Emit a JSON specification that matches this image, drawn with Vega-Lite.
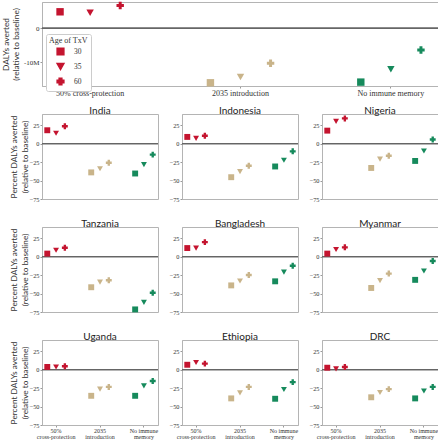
{
  "$schema": "https://vega.github.io/schema/vega-lite/v6.json",
  "autosize": {"type": "pad"},
  "padding": {"left": 0, "top": 1, "right": 0, "bottom": 0},
  "datasets": {
    "global": [
      {"scenario": "50% cross-protection", "age": "30", "dalys": 4900000},
      {"scenario": "50% cross-protection", "age": "35", "dalys": 4600000},
      {"scenario": "50% cross-protection", "age": "60", "dalys": 6750000},
      {"scenario": "2035 introduction", "age": "30", "dalys": -16100000},
      {"scenario": "2035 introduction", "age": "35", "dalys": -14400000},
      {"scenario": "2035 introduction", "age": "60", "dalys": -10300000},
      {"scenario": "No immune memory", "age": "30", "dalys": -15900000},
      {"scenario": "No immune memory", "age": "35", "dalys": -12100000},
      {"scenario": "No immune memory", "age": "60", "dalys": -6400000}
    ],
    "countries": [
      {"country": "India", "scenario": "50% cross-protection", "age": "30", "pct": 18},
      {"country": "India", "scenario": "50% cross-protection", "age": "35", "pct": 14},
      {"country": "India", "scenario": "50% cross-protection", "age": "60", "pct": 23.5},
      {"country": "India", "scenario": "2035 introduction", "age": "30", "pct": -39},
      {"country": "India", "scenario": "2035 introduction", "age": "35", "pct": -34},
      {"country": "India", "scenario": "2035 introduction", "age": "60", "pct": -26},
      {"country": "India", "scenario": "No immune memory", "age": "30", "pct": -40.5},
      {"country": "India", "scenario": "No immune memory", "age": "35", "pct": -28.5},
      {"country": "India", "scenario": "No immune memory", "age": "60", "pct": -15},
      {"country": "Indonesia", "scenario": "50% cross-protection", "age": "30", "pct": 9},
      {"country": "Indonesia", "scenario": "50% cross-protection", "age": "35", "pct": 7},
      {"country": "Indonesia", "scenario": "50% cross-protection", "age": "60", "pct": 10.5},
      {"country": "Indonesia", "scenario": "2035 introduction", "age": "30", "pct": -45.5},
      {"country": "Indonesia", "scenario": "2035 introduction", "age": "35", "pct": -38},
      {"country": "Indonesia", "scenario": "2035 introduction", "age": "60", "pct": -30},
      {"country": "Indonesia", "scenario": "No immune memory", "age": "30", "pct": -31},
      {"country": "Indonesia", "scenario": "No immune memory", "age": "35", "pct": -22.5},
      {"country": "Indonesia", "scenario": "No immune memory", "age": "60", "pct": -10.5},
      {"country": "Nigeria", "scenario": "50% cross-protection", "age": "30", "pct": 17.5},
      {"country": "Nigeria", "scenario": "50% cross-protection", "age": "35", "pct": 30},
      {"country": "Nigeria", "scenario": "50% cross-protection", "age": "60", "pct": 34},
      {"country": "Nigeria", "scenario": "2035 introduction", "age": "30", "pct": -33},
      {"country": "Nigeria", "scenario": "2035 introduction", "age": "35", "pct": -21},
      {"country": "Nigeria", "scenario": "2035 introduction", "age": "60", "pct": -16.5},
      {"country": "Nigeria", "scenario": "No immune memory", "age": "30", "pct": -23.5},
      {"country": "Nigeria", "scenario": "No immune memory", "age": "35", "pct": -10},
      {"country": "Nigeria", "scenario": "No immune memory", "age": "60", "pct": 5.5},
      {"country": "Tanzania", "scenario": "50% cross-protection", "age": "30", "pct": 4},
      {"country": "Tanzania", "scenario": "50% cross-protection", "age": "35", "pct": 8.5},
      {"country": "Tanzania", "scenario": "50% cross-protection", "age": "60", "pct": 12},
      {"country": "Tanzania", "scenario": "2035 introduction", "age": "30", "pct": -41.5},
      {"country": "Tanzania", "scenario": "2035 introduction", "age": "35", "pct": -34.5},
      {"country": "Tanzania", "scenario": "2035 introduction", "age": "60", "pct": -32},
      {"country": "Tanzania", "scenario": "No immune memory", "age": "30", "pct": -71.5},
      {"country": "Tanzania", "scenario": "No immune memory", "age": "35", "pct": -62},
      {"country": "Tanzania", "scenario": "No immune memory", "age": "60", "pct": -49},
      {"country": "Bangladesh", "scenario": "50% cross-protection", "age": "30", "pct": 11.5},
      {"country": "Bangladesh", "scenario": "50% cross-protection", "age": "35", "pct": 11.5},
      {"country": "Bangladesh", "scenario": "50% cross-protection", "age": "60", "pct": 19.5},
      {"country": "Bangladesh", "scenario": "2035 introduction", "age": "30", "pct": -39},
      {"country": "Bangladesh", "scenario": "2035 introduction", "age": "35", "pct": -33},
      {"country": "Bangladesh", "scenario": "2035 introduction", "age": "60", "pct": -25},
      {"country": "Bangladesh", "scenario": "No immune memory", "age": "30", "pct": -33.5},
      {"country": "Bangladesh", "scenario": "No immune memory", "age": "35", "pct": -21},
      {"country": "Bangladesh", "scenario": "No immune memory", "age": "60", "pct": -12.5},
      {"country": "Myanmar", "scenario": "50% cross-protection", "age": "30", "pct": 4},
      {"country": "Myanmar", "scenario": "50% cross-protection", "age": "35", "pct": 9.5},
      {"country": "Myanmar", "scenario": "50% cross-protection", "age": "60", "pct": 12.5},
      {"country": "Myanmar", "scenario": "2035 introduction", "age": "30", "pct": -42.5},
      {"country": "Myanmar", "scenario": "2035 introduction", "age": "35", "pct": -32.5},
      {"country": "Myanmar", "scenario": "2035 introduction", "age": "60", "pct": -23},
      {"country": "Myanmar", "scenario": "No immune memory", "age": "30", "pct": -31.5},
      {"country": "Myanmar", "scenario": "No immune memory", "age": "35", "pct": -19.5},
      {"country": "Myanmar", "scenario": "No immune memory", "age": "60", "pct": -6},
      {"country": "Uganda", "scenario": "50% cross-protection", "age": "30", "pct": 3.5},
      {"country": "Uganda", "scenario": "50% cross-protection", "age": "35", "pct": 3.5},
      {"country": "Uganda", "scenario": "50% cross-protection", "age": "60", "pct": 4.5},
      {"country": "Uganda", "scenario": "2035 introduction", "age": "30", "pct": -35.5},
      {"country": "Uganda", "scenario": "2035 introduction", "age": "35", "pct": -26.5},
      {"country": "Uganda", "scenario": "2035 introduction", "age": "60", "pct": -23.5},
      {"country": "Uganda", "scenario": "No immune memory", "age": "30", "pct": -35.5},
      {"country": "Uganda", "scenario": "No immune memory", "age": "35", "pct": -22},
      {"country": "Uganda", "scenario": "No immune memory", "age": "60", "pct": -15.5},
      {"country": "Ethiopia", "scenario": "50% cross-protection", "age": "30", "pct": 6.5},
      {"country": "Ethiopia", "scenario": "50% cross-protection", "age": "35", "pct": 9.5},
      {"country": "Ethiopia", "scenario": "50% cross-protection", "age": "60", "pct": 8},
      {"country": "Ethiopia", "scenario": "2035 introduction", "age": "30", "pct": -39},
      {"country": "Ethiopia", "scenario": "2035 introduction", "age": "35", "pct": -31.5},
      {"country": "Ethiopia", "scenario": "2035 introduction", "age": "60", "pct": -23.5},
      {"country": "Ethiopia", "scenario": "No immune memory", "age": "30", "pct": -39.5},
      {"country": "Ethiopia", "scenario": "No immune memory", "age": "35", "pct": -27},
      {"country": "Ethiopia", "scenario": "No immune memory", "age": "60", "pct": -17},
      {"country": "DRC", "scenario": "50% cross-protection", "age": "30", "pct": 2.5},
      {"country": "DRC", "scenario": "50% cross-protection", "age": "35", "pct": 1},
      {"country": "DRC", "scenario": "50% cross-protection", "age": "60", "pct": 3.5},
      {"country": "DRC", "scenario": "2035 introduction", "age": "30", "pct": -37.5},
      {"country": "DRC", "scenario": "2035 introduction", "age": "35", "pct": -31},
      {"country": "DRC", "scenario": "2035 introduction", "age": "60", "pct": -26.5},
      {"country": "DRC", "scenario": "No immune memory", "age": "30", "pct": -39},
      {"country": "DRC", "scenario": "No immune memory", "age": "35", "pct": -29},
      {"country": "DRC", "scenario": "No immune memory", "age": "60", "pct": -23.5}
    ]
  },
  "vconcat": [
    {
      "data": {"name": "global"},
      "width": 397,
      "height": 84,
      "layer": [
        {"mark": {"type": "rule", "color": "#666", "strokeWidth": 1}, "encoding": {"y": {"datum": 0, "type": "quantitative"}}},
        {
          "mark": {"type": "point", "filled": true, "opacity": 1, "size": 55},
          "encoding": {
            "x": {"field": "scenario", "type": "nominal", "sort": ["50% cross-protection", "2035 introduction", "No immune memory"], "scale": {"paddingInner": 0.4, "paddingOuter": 0.02}, "axis": {"title": null, "labelAngle": 0, "labelFontSize": 8, "tickSize": 2, "labelPadding": 1}},
            "xOffset": {"field": "age", "type": "nominal", "sort": ["30", "35", "60"], "scale": {"paddingOuter": 0.5}},
            "y": {"field": "dalys", "type": "quantitative", "scale": {"domain": [-17050000, 7800000], "nice": false, "zero": false}, "axis": {"title": ["DALYs averted", "(relative to baseline)"], "labelFontSize": 7, "labelOverlap": false, "tickCount": 10, "values": [-10000000, 0], "labelExpr": "datum.value === 0 ? '0' : (datum.value / 1000000) + 'M'"}},
            "color": {"field": "scenario", "type": "nominal", "scale": {"domain": ["50% cross-protection", "2035 introduction", "No immune memory"], "range": ["#c4142f", "#c9b48a", "#168a5c"]}, "legend": null},
            "shape": {"field": "age", "type": "nominal", "scale": {"domain": ["30", "35", "60"], "range": ["square", "triangle-down", "cross"]}, "legend": {"title": "Age of TxV", "orient": "none", "legendX": 4, "legendY": 32, "strokeColor": "#ccc", "fillColor": "white", "padding": 3, "cornerRadius": 2, "titleFont": "Liberation Serif", "titleFontSize": 8, "titleFontWeight": "normal", "titlePadding": 2, "labelFont": "Liberation Serif", "labelFontSize": 7.5, "symbolSize": 45, "symbolOffset": 7, "labelOffset": 9, "rowPadding": 2, "symbolFillColor": "#c4142f", "symbolStrokeColor": "#c4142f", "symbolOpacity": 1, "encode": {"symbols": {"update": {"size": {"value": 45}}}}}}
          }
        }
      ]
    },
    {
      "data": {"name": "countries"},
      "columns": 3,
      "spacing": {"row": 28, "column": 24},
      "bounds": "flush",
      "resolve": {"scale": {"x": "independent", "xOffset": "independent", "y": "independent"}},
      "concat": [
        {"title": "India", "width": 116, "height": 85, "transform": [{"filter": "datum.country === 'India'"}], "layer": [
          {"mark": {"type": "rule", "color": "#666", "strokeWidth": 1}, "encoding": {"y": {"datum": 0, "type": "quantitative"}}},
          {"mark": {"type": "point", "filled": true, "opacity": 1, "size": 35}, "encoding": {
            "x": {"field": "scenario", "type": "nominal", "sort": ["50% cross-protection", "2035 introduction", "No immune memory"], "scale": {"paddingInner": 0.4, "paddingOuter": 0.02}, "axis": null},
            "xOffset": {"field": "age", "type": "nominal", "sort": ["30", "35", "60"], "scale": {"paddingOuter": 0.5}},
            "y": {"field": "pct", "type": "quantitative", "scale": {"domain": [-75, 40], "nice": false, "zero": false}, "axis": {"title": ["Percent DALYs averted", "(relative to baseline)"], "titlePadding": 0, "labelOverlap": false, "tickCount": 10, "values": [-75, -50, -25, 0, 25]}},
            "color": {"field": "scenario", "type": "nominal", "scale": {"domain": ["50% cross-protection", "2035 introduction", "No immune memory"], "range": ["#c4142f", "#c9b48a", "#168a5c"]}, "legend": null},
            "shape": {"field": "age", "type": "nominal", "scale": {"domain": ["30", "35", "60"], "range": ["square", "triangle-down", "cross"]}, "legend": null}}}]},
        {"title": "Indonesia", "width": 116, "height": 85, "transform": [{"filter": "datum.country === 'Indonesia'"}], "layer": [
          {"mark": {"type": "rule", "color": "#666", "strokeWidth": 1}, "encoding": {"y": {"datum": 0, "type": "quantitative"}}},
          {"mark": {"type": "point", "filled": true, "opacity": 1, "size": 35}, "encoding": {
            "x": {"field": "scenario", "type": "nominal", "sort": ["50% cross-protection", "2035 introduction", "No immune memory"], "scale": {"paddingInner": 0.4, "paddingOuter": 0.02}, "axis": null},
            "xOffset": {"field": "age", "type": "nominal", "sort": ["30", "35", "60"], "scale": {"paddingOuter": 0.5}},
            "y": {"field": "pct", "type": "quantitative", "scale": {"domain": [-75, 40], "nice": false, "zero": false}, "axis": {"title": null, "labelOverlap": false, "tickCount": 10, "values": [-75, -50, -25, 0, 25]}},
            "color": {"field": "scenario", "type": "nominal", "scale": {"domain": ["50% cross-protection", "2035 introduction", "No immune memory"], "range": ["#c4142f", "#c9b48a", "#168a5c"]}, "legend": null},
            "shape": {"field": "age", "type": "nominal", "scale": {"domain": ["30", "35", "60"], "range": ["square", "triangle-down", "cross"]}, "legend": null}}}]},
        {"title": "Nigeria", "width": 116, "height": 85, "transform": [{"filter": "datum.country === 'Nigeria'"}], "layer": [
          {"mark": {"type": "rule", "color": "#666", "strokeWidth": 1}, "encoding": {"y": {"datum": 0, "type": "quantitative"}}},
          {"mark": {"type": "point", "filled": true, "opacity": 1, "size": 35}, "encoding": {
            "x": {"field": "scenario", "type": "nominal", "sort": ["50% cross-protection", "2035 introduction", "No immune memory"], "scale": {"paddingInner": 0.4, "paddingOuter": 0.02}, "axis": null},
            "xOffset": {"field": "age", "type": "nominal", "sort": ["30", "35", "60"], "scale": {"paddingOuter": 0.5}},
            "y": {"field": "pct", "type": "quantitative", "scale": {"domain": [-75, 40], "nice": false, "zero": false}, "axis": {"title": null, "labelOverlap": false, "tickCount": 10, "values": [-75, -50, -25, 0, 25]}},
            "color": {"field": "scenario", "type": "nominal", "scale": {"domain": ["50% cross-protection", "2035 introduction", "No immune memory"], "range": ["#c4142f", "#c9b48a", "#168a5c"]}, "legend": null},
            "shape": {"field": "age", "type": "nominal", "scale": {"domain": ["30", "35", "60"], "range": ["square", "triangle-down", "cross"]}, "legend": null}}}]},
        {"title": "Tanzania", "width": 116, "height": 85, "transform": [{"filter": "datum.country === 'Tanzania'"}], "layer": [
          {"mark": {"type": "rule", "color": "#666", "strokeWidth": 1}, "encoding": {"y": {"datum": 0, "type": "quantitative"}}},
          {"mark": {"type": "point", "filled": true, "opacity": 1, "size": 35}, "encoding": {
            "x": {"field": "scenario", "type": "nominal", "sort": ["50% cross-protection", "2035 introduction", "No immune memory"], "scale": {"paddingInner": 0.4, "paddingOuter": 0.02}, "axis": null},
            "xOffset": {"field": "age", "type": "nominal", "sort": ["30", "35", "60"], "scale": {"paddingOuter": 0.5}},
            "y": {"field": "pct", "type": "quantitative", "scale": {"domain": [-75, 40], "nice": false, "zero": false}, "axis": {"title": ["Percent DALYs averted", "(relative to baseline)"], "titlePadding": 0, "labelOverlap": false, "tickCount": 10, "values": [-75, -50, -25, 0, 25]}},
            "color": {"field": "scenario", "type": "nominal", "scale": {"domain": ["50% cross-protection", "2035 introduction", "No immune memory"], "range": ["#c4142f", "#c9b48a", "#168a5c"]}, "legend": null},
            "shape": {"field": "age", "type": "nominal", "scale": {"domain": ["30", "35", "60"], "range": ["square", "triangle-down", "cross"]}, "legend": null}}}]},
        {"title": "Bangladesh", "width": 116, "height": 85, "transform": [{"filter": "datum.country === 'Bangladesh'"}], "layer": [
          {"mark": {"type": "rule", "color": "#666", "strokeWidth": 1}, "encoding": {"y": {"datum": 0, "type": "quantitative"}}},
          {"mark": {"type": "point", "filled": true, "opacity": 1, "size": 35}, "encoding": {
            "x": {"field": "scenario", "type": "nominal", "sort": ["50% cross-protection", "2035 introduction", "No immune memory"], "scale": {"paddingInner": 0.4, "paddingOuter": 0.02}, "axis": null},
            "xOffset": {"field": "age", "type": "nominal", "sort": ["30", "35", "60"], "scale": {"paddingOuter": 0.5}},
            "y": {"field": "pct", "type": "quantitative", "scale": {"domain": [-75, 40], "nice": false, "zero": false}, "axis": {"title": null, "labelOverlap": false, "tickCount": 10, "values": [-75, -50, -25, 0, 25]}},
            "color": {"field": "scenario", "type": "nominal", "scale": {"domain": ["50% cross-protection", "2035 introduction", "No immune memory"], "range": ["#c4142f", "#c9b48a", "#168a5c"]}, "legend": null},
            "shape": {"field": "age", "type": "nominal", "scale": {"domain": ["30", "35", "60"], "range": ["square", "triangle-down", "cross"]}, "legend": null}}}]},
        {"title": "Myanmar", "width": 116, "height": 85, "transform": [{"filter": "datum.country === 'Myanmar'"}], "layer": [
          {"mark": {"type": "rule", "color": "#666", "strokeWidth": 1}, "encoding": {"y": {"datum": 0, "type": "quantitative"}}},
          {"mark": {"type": "point", "filled": true, "opacity": 1, "size": 35}, "encoding": {
            "x": {"field": "scenario", "type": "nominal", "sort": ["50% cross-protection", "2035 introduction", "No immune memory"], "scale": {"paddingInner": 0.4, "paddingOuter": 0.02}, "axis": null},
            "xOffset": {"field": "age", "type": "nominal", "sort": ["30", "35", "60"], "scale": {"paddingOuter": 0.5}},
            "y": {"field": "pct", "type": "quantitative", "scale": {"domain": [-75, 40], "nice": false, "zero": false}, "axis": {"title": null, "labelOverlap": false, "tickCount": 10, "values": [-75, -50, -25, 0, 25]}},
            "color": {"field": "scenario", "type": "nominal", "scale": {"domain": ["50% cross-protection", "2035 introduction", "No immune memory"], "range": ["#c4142f", "#c9b48a", "#168a5c"]}, "legend": null},
            "shape": {"field": "age", "type": "nominal", "scale": {"domain": ["30", "35", "60"], "range": ["square", "triangle-down", "cross"]}, "legend": null}}}]},
        {"title": "Uganda", "width": 116, "height": 85, "transform": [{"filter": "datum.country === 'Uganda'"}], "layer": [
          {"mark": {"type": "rule", "color": "#666", "strokeWidth": 1}, "encoding": {"y": {"datum": 0, "type": "quantitative"}}},
          {"mark": {"type": "point", "filled": true, "opacity": 1, "size": 35}, "encoding": {
            "x": {"field": "scenario", "type": "nominal", "sort": ["50% cross-protection", "2035 introduction", "No immune memory"], "scale": {"paddingInner": 0.4, "paddingOuter": 0.02}, "axis": {"title": null, "labelAngle": 0, "labelFontSize": 6, "labelLineHeight": 6.3, "tickSize": 2, "labelPadding": 0, "labelExpr": "datum.value === '50% cross-protection' ? ['50%', 'cross-protection'] : datum.value === '2035 introduction' ? ['2035', 'introduction'] : ['No immune', 'memory']"}},
            "xOffset": {"field": "age", "type": "nominal", "sort": ["30", "35", "60"], "scale": {"paddingOuter": 0.5}},
            "y": {"field": "pct", "type": "quantitative", "scale": {"domain": [-75, 40], "nice": false, "zero": false}, "axis": {"title": ["Percent DALYs averted", "(relative to baseline)"], "titlePadding": 0, "labelOverlap": false, "tickCount": 10, "values": [-75, -50, -25, 0, 25]}},
            "color": {"field": "scenario", "type": "nominal", "scale": {"domain": ["50% cross-protection", "2035 introduction", "No immune memory"], "range": ["#c4142f", "#c9b48a", "#168a5c"]}, "legend": null},
            "shape": {"field": "age", "type": "nominal", "scale": {"domain": ["30", "35", "60"], "range": ["square", "triangle-down", "cross"]}, "legend": null}}}]},
        {"title": "Ethiopia", "width": 116, "height": 85, "transform": [{"filter": "datum.country === 'Ethiopia'"}], "layer": [
          {"mark": {"type": "rule", "color": "#666", "strokeWidth": 1}, "encoding": {"y": {"datum": 0, "type": "quantitative"}}},
          {"mark": {"type": "point", "filled": true, "opacity": 1, "size": 35}, "encoding": {
            "x": {"field": "scenario", "type": "nominal", "sort": ["50% cross-protection", "2035 introduction", "No immune memory"], "scale": {"paddingInner": 0.4, "paddingOuter": 0.02}, "axis": {"title": null, "labelAngle": 0, "labelFontSize": 6, "labelLineHeight": 6.3, "tickSize": 2, "labelPadding": 0, "labelExpr": "datum.value === '50% cross-protection' ? ['50%', 'cross-protection'] : datum.value === '2035 introduction' ? ['2035', 'introduction'] : ['No immune', 'memory']"}},
            "xOffset": {"field": "age", "type": "nominal", "sort": ["30", "35", "60"], "scale": {"paddingOuter": 0.5}},
            "y": {"field": "pct", "type": "quantitative", "scale": {"domain": [-75, 40], "nice": false, "zero": false}, "axis": {"title": null, "labelOverlap": false, "tickCount": 10, "values": [-75, -50, -25, 0, 25]}},
            "color": {"field": "scenario", "type": "nominal", "scale": {"domain": ["50% cross-protection", "2035 introduction", "No immune memory"], "range": ["#c4142f", "#c9b48a", "#168a5c"]}, "legend": null},
            "shape": {"field": "age", "type": "nominal", "scale": {"domain": ["30", "35", "60"], "range": ["square", "triangle-down", "cross"]}, "legend": null}}}]},
        {"title": "DRC", "width": 116, "height": 85, "transform": [{"filter": "datum.country === 'DRC'"}], "layer": [
          {"mark": {"type": "rule", "color": "#666", "strokeWidth": 1}, "encoding": {"y": {"datum": 0, "type": "quantitative"}}},
          {"mark": {"type": "point", "filled": true, "opacity": 1, "size": 35}, "encoding": {
            "x": {"field": "scenario", "type": "nominal", "sort": ["50% cross-protection", "2035 introduction", "No immune memory"], "scale": {"paddingInner": 0.4, "paddingOuter": 0.02}, "axis": {"title": null, "labelAngle": 0, "labelFontSize": 6, "labelLineHeight": 6.3, "tickSize": 2, "labelPadding": 0, "labelExpr": "datum.value === '50% cross-protection' ? ['50%', 'cross-protection'] : datum.value === '2035 introduction' ? ['2035', 'introduction'] : ['No immune', 'memory']"}},
            "xOffset": {"field": "age", "type": "nominal", "sort": ["30", "35", "60"], "scale": {"paddingOuter": 0.5}},
            "y": {"field": "pct", "type": "quantitative", "scale": {"domain": [-75, 40], "nice": false, "zero": false}, "axis": {"title": null, "labelOverlap": false, "tickCount": 10, "values": [-75, -50, -25, 0, 25]}},
            "color": {"field": "scenario", "type": "nominal", "scale": {"domain": ["50% cross-protection", "2035 introduction", "No immune memory"], "range": ["#c4142f", "#c9b48a", "#168a5c"]}, "legend": null},
            "shape": {"field": "age", "type": "nominal", "scale": {"domain": ["30", "35", "60"], "range": ["square", "triangle-down", "cross"]}, "legend": null}}}]}
      ]
    }
  ],
  "spacing": 28,
  "bounds": "flush",
  "resolve": {"scale": {"x": "independent", "xOffset": "independent", "y": "independent"}, "legend": {"shape": "independent", "color": "independent"}},
  "config": {
    "font": "Lato",
    "view": {"stroke": "#b4b4b4"},
    "title": {"fontSize": 10, "fontWeight": "normal", "color": "#222", "offset": -2},
    "axis": {"labelFont": "Liberation Serif", "labelFontSize": 6.3, "labelColor": "#333", "labelOverlap": false, "titleFont": "Lato", "titleFontSize": 8.3, "titleFontWeight": "normal", "titleColor": "#333", "domainColor": "#b4b4b4", "tickColor": "#999", "tickSize": 2, "grid": false, "titlePadding": 3, "labelPadding": 1},
    "legend": {"labelColor": "#333", "titleColor": "#333"}
  }
}
